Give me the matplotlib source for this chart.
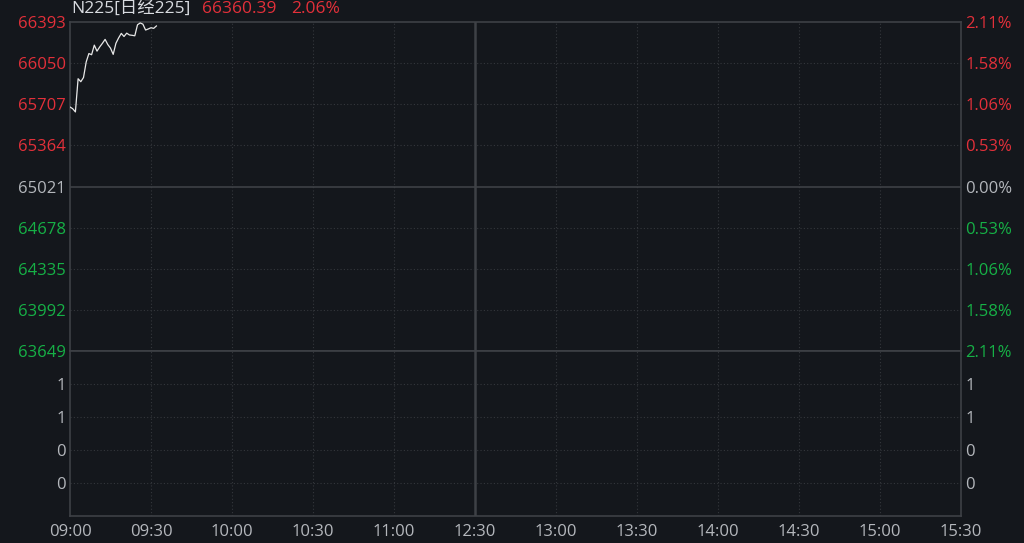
import numpy as np
import matplotlib
matplotlib.use("Agg")
import matplotlib.pyplot as plt

plt.rcParams['font.family'] = ['Open Sans', 'Noto Sans CJK SC', 'DejaVu Sans']

# data
price_ticks = [66393, 66050, 65707, 65364, 65021, 64678, 64335, 63992, 63649]
pct_labels = ['2.11%', '1.58%', '1.06%', '0.53%', '0.00%', '0.53%', '1.06%', '1.58%', '2.11%']
vol_ticks = [0.4, 0.8, 1.2, 1.6]
vol_labels = ['0', '0', '1', '1']
time_labels = ['09:00', '09:30', '10:00', '10:30', '11:00', '12:30',
               '13:00', '13:30', '14:00', '14:30', '15:00', '15:30']
minutes = list(range(33))
prices = [65684, 65670, 65643, 65920, 65895, 65930, 66060, 66130, 66120, 66200,
          66150, 66185, 66215, 66248, 66205, 66175, 66123, 66215, 66260, 66298,
          66272, 66300, 66285, 66282, 66278, 66370, 66385, 66375, 66326, 66335,
          66345, 66340, 66360]
last_price = '66360.39'
last_pct = '2.06%'

bg = '#14171c'
red = '#e3303a'
green = '#16b146'
grey = '#b4b7bc'
grid_c = '#34373c'
solid_c = '#3e4146'
fs = 12

fig = plt.figure(figsize=(10.24, 5.43), dpi=100, facecolor=bg)
W, H = 1024, 543
L, R = 70, 961
ax = fig.add_axes([L / W, 1 - 351 / H, (R - L) / W, 329 / H], facecolor=bg)
axv = fig.add_axes([L / W, 1 - 516 / H, (R - L) / W, 165 / H], facecolor=bg)

xt = np.arange(0, 331, 30)
for a in (ax, axv):
    a.set_xlim(0, 330)
    a.set_xticks(xt)
    for s in a.spines.values():
        s.set_color(solid_c)
        s.set_linewidth(1.2)
    for x in xt[1:-1]:
        if x == 150:
            a.axvline(x, color=solid_c, lw=1.8, zorder=1)
        else:
            a.axvline(x, color=grid_c, lw=0.8, ls=(0, (1, 2)), zorder=1)
    a.tick_params(length=0)

# price panel
ax.set_ylim(price_ticks[-1], price_ticks[0])
ax.set_yticks(price_ticks)
ax.set_yticklabels([str(p) for p in price_ticks], fontsize=fs)
for y in price_ticks[1:-1]:
    if y == 65021:
        ax.axhline(y, color=solid_c, lw=1.2, zorder=1)
    else:
        ax.axhline(y, color=grid_c, lw=0.8, ls=(0, (1, 2)), zorder=1)
for i, lab in enumerate(ax.get_yticklabels()):
    lab.set_color(red if i < 4 else (grey if i == 4 else green))
ax.tick_params(axis='y', pad=3)
ax.set_xticklabels([])
ax.plot(minutes, prices, color='#e8e8e8', lw=0.9, zorder=3)

axr = ax.twinx()
axr.set_ylim(ax.get_ylim())
axr.set_yticks(price_ticks)
axr.set_yticklabels(pct_labels, fontsize=fs)
axr.tick_params(length=0, pad=3)
for s in axr.spines.values():
    s.set_visible(False)
for i, lab in enumerate(axr.get_yticklabels()):
    lab.set_color(red if i < 4 else (grey if i == 4 else green))

# volume panel
axv.set_ylim(0, 2)
axv.set_yticks(vol_ticks)
axv.set_yticklabels(vol_labels, fontsize=fs, color=grey)
axv.tick_params(axis='y', pad=3)
for y in vol_ticks:
    axv.axhline(y, color=grid_c, lw=0.8, ls=(0, (1, 2)), zorder=1)
axv.set_xticklabels(time_labels, fontsize=fs, color=grey)
axv.tick_params(axis='x', pad=6)
axvr = axv.twinx()
axvr.set_ylim(0, 2)
axvr.set_yticks(vol_ticks)
axvr.set_yticklabels(vol_labels, fontsize=fs, color=grey)
axvr.tick_params(length=0, pad=3)
for s in axvr.spines.values():
    s.set_visible(False)

# header
fig.text(71 / W, 1 - 9 / H, 'N225[日经225]', fontsize=12.5, color='#d8dbe0', va='center')
fig.text(202 / W, 1 - 9 / H, last_price, fontsize=12.5, color=red, va='center')
fig.text(291 / W, 1 - 9 / H, last_pct, fontsize=12.5, color=red, va='center')

fig.savefig('out.png', dpi=100, facecolor=bg)
